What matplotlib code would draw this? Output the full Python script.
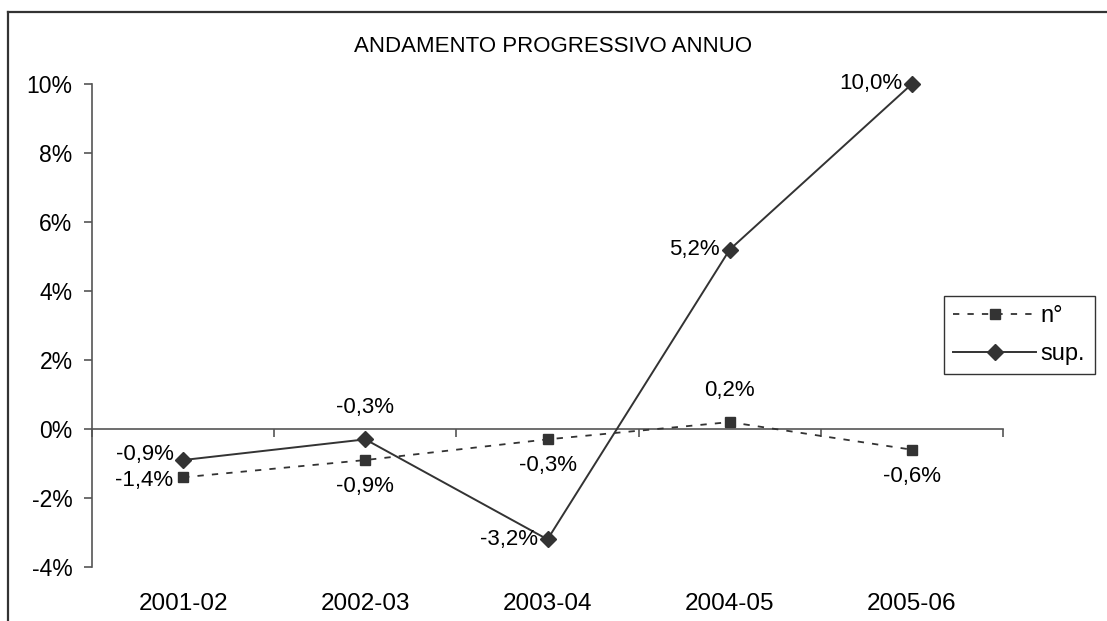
import matplotlib
matplotlib.use("Agg")
import matplotlib.pyplot as plt
from matplotlib.lines import Line2D
from matplotlib.ticker import FixedLocator, FuncFormatter

plt.rcParams["font.family"] = ["Liberation Sans", "DejaVu Sans"]

# Data
periods = ["2001-02", "2002-03", "2003-04", "2004-05", "2005-06"]
numero = [-1.4, -0.9, -0.3, 0.2, -0.6]        # n°
superficie = [-0.9, -0.3, -3.2, 5.2, 10.0]    # sup.
y_ticks = [-4, -2, 0, 2, 4, 6, 8, 10]

# Where each value label sits relative to its point
numero_label_pos = ["left_down", "below", "below", "above", "below"]
superficie_label_pos = ["left_up", "above", "left", "left", "left"]

FS_LABEL = 16
FS_TICK = 16.5
FS_CAT = 17.5
FS_TITLE = 16
FS_LEG = 17
DARK = "#333333"
AXC = "#555555"

fig = plt.figure(figsize=(11.07, 6.21), dpi=100)
ax = fig.add_axes([92 / 1107, 1 - 567 / 621, (1003 - 92) / 1107, (567 - 84) / 621])

x = list(range(len(periods)))

ax.plot(x, numero, color=DARK, lw=1.3, ls=(0, (3.5, 4.5)),
        marker="s", ms=7.5, mfc=DARK, mec=DARK, label="n°", zorder=3, clip_on=False)
ax.plot(x, superficie, color=DARK, lw=1.4, ls="-",
        marker="D", ms=8, mfc=DARK, mec=DARK, label="sup.", zorder=3, clip_on=False)


def fmt_pct(v):
    return f"{v:.1f}%".replace(".", ",")


OFFSETS = {
    "left": ((-7, 0), "right"),
    "left_up": ((-7, 4), "right"),
    "left_down": ((-7, -2), "right"),
    "above": ((0, 23), "center"),
    "below": ((0, -19), "center"),
}


def put_labels(values, places):
    for xi, v, p in zip(x, values, places):
        off, ha = OFFSETS[p]
        ax.annotate(fmt_pct(v), (xi, v), xytext=off, textcoords="offset points",
                    ha=ha, va="center", fontsize=FS_LABEL)


put_labels(numero, numero_label_pos)
put_labels(superficie, superficie_label_pos)

# Axes
ax.set_xlim(-0.5, len(periods) - 0.5)
ax.set_ylim(-4, 10)
ax.spines["top"].set_visible(False)
ax.spines["right"].set_visible(False)
ax.spines["bottom"].set_position(("data", 0))
for s in ("left", "bottom"):
    ax.spines[s].set_color(AXC)
    ax.spines[s].set_linewidth(1.2)

ax.yaxis.set_major_locator(FixedLocator(y_ticks))
ax.yaxis.set_major_formatter(FuncFormatter(lambda v, _: f"{v:.0f}%"))
ax.tick_params(axis="y", direction="out", length=6, width=1.2, color=AXC,
               pad=8, labelsize=FS_TICK)

ax.set_xticks(x)
ax.set_xticklabels(periods)
ax.set_xticks([i - 0.5 for i in range(len(periods) + 1)], minor=True)
ax.tick_params(axis="x", which="major", length=0, pad=118, labelsize=FS_CAT)
ax.tick_params(axis="x", which="minor", direction="out", length=6, width=1.2, color=AXC)

fig.text(0.5, 1 - 46 / 621, "ANDAMENTO PROGRESSIVO ANNUO", ha="center", va="center",
         fontsize=FS_TITLE)

leg = ax.legend(loc="upper left", bbox_to_anchor=(944 / 1107, 1 - 296 / 621),
                bbox_transform=fig.transFigure, fontsize=FS_LEG, frameon=True,
                fancybox=False, edgecolor="black", handlelength=3.5,
                handletextpad=0.2, labelspacing=0.65, borderpad=0.4,
                borderaxespad=0, numpoints=1)
leg.get_frame().set_linewidth(1.0)

# Chart-area border (left and top edges)
fig.add_artist(Line2D([8 / 1107, 8 / 1107], [0, 1 - 12 / 621],
                      transform=fig.transFigure, color=DARK, lw=1.6))
fig.add_artist(Line2D([8 / 1107, 1], [1 - 12 / 621, 1 - 12 / 621],
                      transform=fig.transFigure, color=DARK, lw=1.6))

fig.savefig("out.png", dpi=100, facecolor="white")
